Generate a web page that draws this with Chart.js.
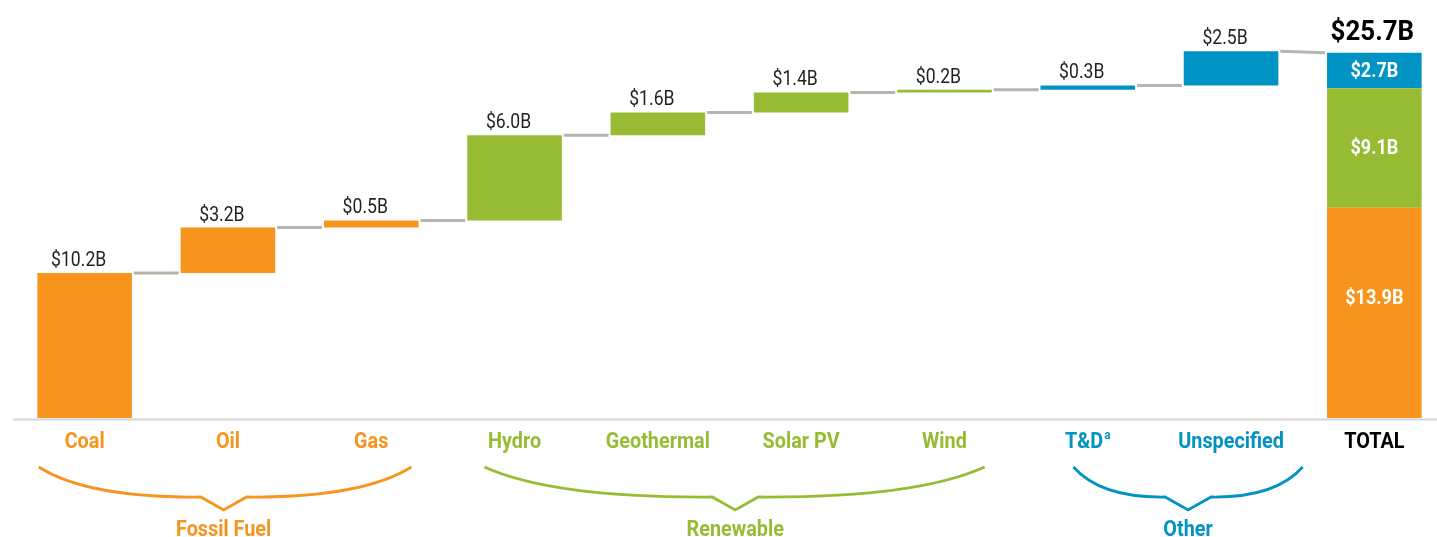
<!DOCTYPE html>
<html>
  <head>
    <title>Waterfall</title>
    <meta charset="UTF-8">
    <style>
      html, body {
        margin: 0;
        overflow: hidden;
        background: #ffffff;
      }
      /* a bit wider than the window so the last column sits where it should */
      .canvas {
        width: 1446px;
        height: 537px;
        position: relative;
      }
    </style>
  </head>
  <body>
    <div class="canvas">
      <canvas id="canvas"></canvas>
    </div>
    <script src="https://cdn.jsdelivr.net/npm/chart.js@4.4.1/dist/chart.umd.min.js"></script>
    <script>
    // categories along the bottom
    var categories = ['Coal', 'Oil', 'Gas', 'Hydro', 'Geothermal', 'Solar PV', 'Wind', 'T&D', 'Unspecified', 'TOTAL'];
    var groups = ['Fossil Fuel', 'Renewable', 'Other'];
    var groupOf = [0, 0, 0, 1, 1, 1, 1, 2, 2];

    // waterfall steps (billion $), start and end of each floating bar
    var stepStart = [0, 10.2, 13.4, 13.9, 19.9, 21.5, 22.9, 23.1, 23.4];
    var stepEnd = [10.2, 13.4, 13.9, 19.9, 21.5, 22.9, 23.1, 23.4, 25.8];
    var stepLabels = ['$10.2B', '$3.2B', '$0.5B', '$6.0B', '$1.6B', '$1.4B', '$0.2B', '$0.3B', '$2.5B'];

    // the total column, split by group
    var totalStart = [0, 14.8, 23.2];
    var totalEnd = [14.8, 23.2, 25.7];
    var totalLabels = ['$13.9B', '$9.1B', '$2.7B'];
    var grandTotal = '$25.7B';

    var colors = ['#F7941D', '#97BC33', '#0093C4'];
    var FONT = "Roboto, 'Noto Sans', sans-serif";

    // one dataset per group, bars of other groups left empty
    var datasets = groups.map(function(name, g) {
        var data = [];
        for (var i = 0; i < stepStart.length; i++) {
            data.push(groupOf[i] === g ? [stepStart[i], stepEnd[i]] : null);
        }
        data.push([totalStart[g], totalEnd[g]]);
        return {
            label: name,
            data: data,
            backgroundColor: colors[g],
            borderWidth: 0,
            grouped: false,
            categoryPercentage: 1,
            barPercentage: 0.66
        };
    });

    // narrow text: the original uses a condensed face
    function text(ctx, str, x, y, font, sx, align) {
        ctx.save();
        ctx.font = font;
        ctx.textAlign = align || 'center';
        ctx.translate(x, y);
        ctx.scale(sx, 1);
        ctx.fillText(str, 0, 0);
        ctx.restore();
    }

    function drawBrace(ctx, x0, x1, xt, color) {
        var yTop = 467, yMid = 497, yTip = 510, v = 23;
        ctx.save();
        ctx.strokeStyle = color;
        ctx.lineWidth = 2.8;
        ctx.beginPath();
        ctx.moveTo(x0, yTop);
        ctx.quadraticCurveTo(x0 + (xt - v - x0) * 0.3, yMid + 1, xt - v, yMid);
        ctx.lineTo(xt, yTip);
        ctx.lineTo(xt + v, yMid);
        ctx.quadraticCurveTo(x1 - (x1 - xt - v) * 0.3, yMid + 1, x1, yTop);
        ctx.stroke();
        ctx.restore();
    }

    var waterfallPlugin = {
        id: 'waterfall',
        afterDatasetsDraw: function(chart, args, opts) {
            var ctx = chart.ctx;
            var xs = chart.scales.x;
            var ys = chart.scales.y;
            var half = chart.getDatasetMeta(0).data[0].width / 2;
            var n = categories.length;

            ctx.save();

            // base line
            ctx.strokeStyle = '#D6D6D2';
            ctx.lineWidth = 2;
            ctx.beginPath();
            ctx.moveTo(chart.chartArea.left, ys.getPixelForValue(0) + 1.5);
            ctx.lineTo(chart.width, ys.getPixelForValue(0) + 1.5);
            ctx.stroke();

            // connectors between the steps
            ctx.strokeStyle = '#B5B5AB';
            ctx.lineWidth = 3;
            for (var i = 0; i < n - 1; i++) {
                var yA = ys.getPixelForValue(stepEnd[i]);
                var yB = i + 1 < stepStart.length ? ys.getPixelForValue(stepStart[i + 1]) : ys.getPixelForValue(totalEnd[2]);
                ctx.beginPath();
                ctx.moveTo(xs.getPixelForValue(i) + half + 2, yA);
                ctx.lineTo(xs.getPixelForValue(i + 1) - half - 2, yB);
                ctx.stroke();
            }

            // value labels above the steps
            ctx.fillStyle = '#231F20';
            ctx.textBaseline = 'alphabetic';
            for (var j = 0; j < stepLabels.length; j++) {
                text(ctx, stepLabels[j], xs.getPixelForValue(j) - 6, ys.getPixelForValue(stepEnd[j]) - 7, '20px ' + FONT, 0.88);
            }

            // labels in the total column
            var xt = xs.getPixelForValue(n - 1);
            ctx.fillStyle = '#ffffff';
            ctx.textBaseline = 'middle';
            var anchor = [0.57, 0.5, 0.5];
            for (var k = 0; k < totalLabels.length; k++) {
                var v = totalStart[k] + (totalEnd[k] - totalStart[k]) * anchor[k];
                text(ctx, totalLabels[k], xt, ys.getPixelForValue(v) + 1, 'bold 21px ' + FONT, 0.86);
            }
            ctx.fillStyle = '#000000';
            ctx.textBaseline = 'alphabetic';
            text(ctx, grandTotal, xt - 2, ys.getPixelForValue(totalEnd[2]) - 13, 'bold 27px ' + FONT, 0.96);

            // category labels
            var f = 'bold 22px ' + FONT, sx = 0.9;
            ctx.textBaseline = 'middle';
            for (var c = 0; c < n; c++) {
                var x = xs.getPixelForValue(c);
                ctx.fillStyle = c < groupOf.length ? colors[groupOf[c]] : '#000000';
                if (categories[c] === 'T&D') {
                    // superscript note mark
                    ctx.font = f;
                    var w = ctx.measureText('T&D').width * sx;
                    ctx.font = 'bold 13px ' + FONT;
                    var ws = ctx.measureText('a').width * sx;
                    var x0 = x - (w + ws + 1) / 2;
                    text(ctx, 'T&D', x0, 442, f, sx, 'left');
                    text(ctx, 'a', x0 + w + 1, 436, 'bold 13px ' + FONT, sx, 'left');
                } else {
                    text(ctx, categories[c], x, 442, f, sx);
                }
            }

            // braces and group names
            var spans = opts.spans;
            var step = xs.getPixelForValue(1) - xs.getPixelForValue(0);
            var px = function(u) {
                return xs.getPixelForValue(0) + u * step;
            };
            for (var g = 0; g < groups.length; g++) {
                var s = spans[g];
                drawBrace(ctx, px(s[0]), px(s[1]), px(s[2]), colors[g]);
                ctx.fillStyle = colors[g];
                ctx.textBaseline = 'alphabetic';
                text(ctx, groups[g], px(s[2]), 536, f, sx);
            }

            ctx.restore();
        }
    };

    var ctx = document.getElementById('canvas').getContext('2d');
    var chart = new Chart(ctx, {
        type: 'bar',
        data: {
            labels: categories,
            datasets: datasets
        },
        options: {
            responsive: true,
            maintainAspectRatio: false,
            animation: false,
            layout: {
                padding: { left: 13, right: 0, top: 20, bottom: 119 }
            },
            scales: {
                x: { display: false, offset: true },
                y: { display: false, min: 0, max: 28 }
            },
            plugins: {
                legend: { display: false },
                tooltip: { enabled: false },
                waterfall: {
                    // brace ends and tip, in category units
                    spans: [[-0.32, 2.28, 0.97], [2.79, 6.28, 4.54], [6.9, 8.5, 7.7]]
                }
            }
        },
        plugins: [waterfallPlugin]
    });
    </script>
  </body>
</html>
